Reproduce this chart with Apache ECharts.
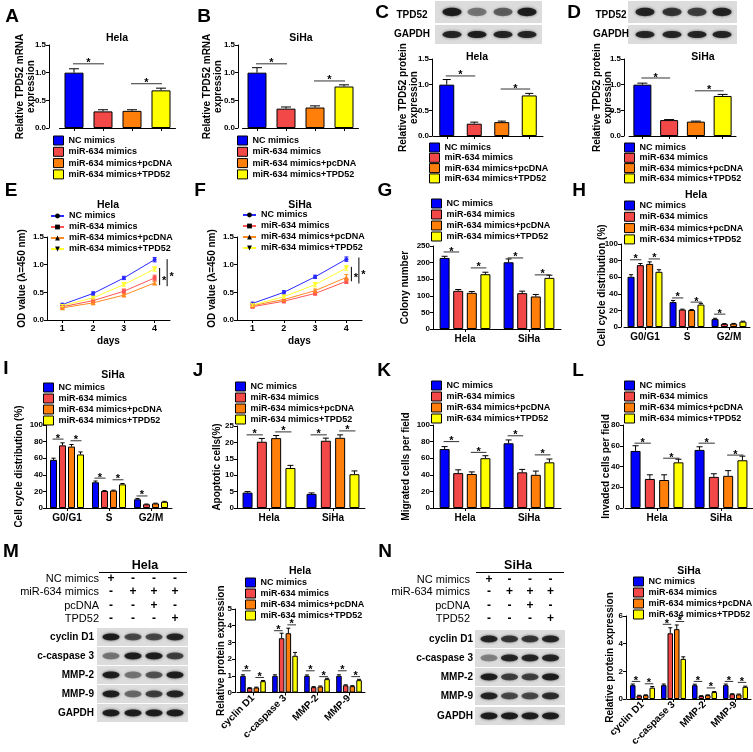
<!DOCTYPE html>
<html><head><meta charset="utf-8">
<script src="https://cdn.jsdelivr.net/npm/echarts@6/dist/echarts.min.js"></script>
<style>html,body{margin:0;padding:0;background:#fff}#c{width:753px;height:752px}</style>
</head><body><div id="c"></div>
<script>
const FONT = '"Liberation Sans", Arial, Helvetica, sans-serif';
const GROUPS = ['NC mimics','miR-634 mimics','miR-634 mimics+pcDNA','miR-634 mimics+TPD52'];
const COLORS = ['#0000FF','#F24848','#FF7F0A','#FFFF00'];
const LINE_COLORS = ['#2A2AFF','#FF5555','#FF8A1F','#FFFF30'];
const LINE_SYMBOLS = ['circle','rect','triangle','triangle'];

// Panels A-D (one bar per group)
const aMean=[1.00,0.30,0.31,0.68], aErr=[0.07,0.03,0.02,0.04], aSig=[[0,0,1,1.16],[0,2,3,0.80]];
const bMean=[1.00,0.35,0.37,0.75], bErr=[0.09,0.03,0.03,0.03], bSig=[[0,0,1,1.16],[0,2,3,0.85]];
const cMean=[1.00,0.24,0.27,0.79], cErr=[0.10,0.03,0.02,0.04], cSig=[[0,0,1,1.17],[0,2,3,0.915]];
const dMean=[1.00,0.31,0.28,0.78], dErr=[0.03,0.01,0.01,0.03], dSig=[[0,0,1,1.13],[0,2,3,0.88]];
// E, F (lines)
const DAYS=['1','2','3','4'];
const eMean=[[0.28,0.48,0.76,1.09],[0.24,0.35,0.52,0.76],[0.22,0.31,0.45,0.67],[0.26,0.40,0.64,0.92]];
const eErr=[[0.02,0.03,0.03,0.04],[0.02,0.03,0.04,0.05],[0.02,0.02,0.02,0.03],[0.02,0.02,0.03,0.04]];
const eBr=[[3,0.94,0.63],[3,1.10,0.61]];
const fMean=[[0.30,0.50,0.78,1.10],[0.24,0.34,0.48,0.70],[0.26,0.37,0.53,0.77],[0.27,0.42,0.64,0.94]];
const fErr=[[0.02,0.03,0.03,0.04],[0.02,0.03,0.03,0.04],[0.02,0.02,0.03,0.05],[0.02,0.03,0.04,0.04]];
const fBr=[[3,0.96,0.70],[3,1.13,0.66]];
// grouped
const CELLS=['Hela','SiHa'];
const PHASES=['G0/G1','S','G2/M'];
const PROTEINS=['cyclin D1','c-caspase 3','MMP-2','MMP-9'];
const gMean=[[214,201],[115,108],[109,98],[165,154]], gErr=[[5,10],[4,6],[4,6],[6,8]];
const gSig=[[0,0,1,232],[0,2,3,184],[1,0,1,214],[1,2,3,163]];
const hMean=[[60.5,30,9.5],[74.5,21,3.8],[76,20.5,4],[66.5,27,6.5]], hErr=[[2.5,2,1],[2,0.5,0.3],[2.5,0.5,0.3],[2.5,1.5,0.5]];
const hSig=[[0,0,1,81],[0,2,3,82],[1,0,1,35],[1,2,3,30],[2,0,1,15.5]];
const iMean=[[58,31,10.5],[75.5,20.5,4.5],[74,21,5.5],[64.5,28.5,7.5]], iErr=[[2,1.5,1],[3,0.5,0.3],[2.5,0.5,0.3],[3,1,0.5]];
const iSig=[[0,0,1,83],[0,2,3,81],[1,0,1,36],[1,2,3,34],[2,0,1,14.5]];
const jMean=[[4.7,4.3],[20.2,20.5],[21.3,21.4],[12.2,10.3]], jErr=[[0.3,0.3],[1,0.8],[0.8,0.9],[0.8,1]];
const jSig=[[0,0,1,22.3],[0,2,3,23.2],[1,0,1,22.3],[1,2,3,23.5]];
const kMean=[[71,78],[42,43],[41,40],[60,55]], kErr=[[3,4],[4,3.5],[2.5,4.5],[3,4]];
const kSig=[[0,0,1,80],[0,2,3,67],[1,0,1,87],[1,2,3,64]];
const lMean=[[55,56],[28,30],[27,31],[44,46]], lErr=[[5,3],[4,3],[5,5],[3,4]];
const lSig=[[0,0,1,62.5],[0,2,3,48],[1,0,1,62.5],[1,2,3,51]];
const mMean=[[1.0,1.0,1.0,1.0],[0.27,3.25,0.32,0.43],[0.30,3.55,0.36,0.38],[0.68,2.20,0.80,0.74]];
const mErr=[[0.06,0.06,0.05,0.06],[0.02,0.3,0.03,0.03],[0.02,0.3,0.03,0.03],[0.04,0.2,0.05,0.05]];
const mSig=[[0,0,1,1.3],[0,2,3,0.9],[1,0,1,3.7],[1,2,3,4.05],[2,0,1,1.3],[2,2,3,0.95],[3,0,1,1.3],[3,2,3,0.95]];
const nMean=[[1.0,1.0,1.0,1.0],[0.25,4.75,0.22,0.35],[0.28,5.05,0.28,0.33],[0.82,2.90,0.50,0.88]];
const nErr=[[0.08,0.08,0.07,0.08],[0.02,0.4,0.02,0.03],[0.02,0.3,0.02,0.03],[0.08,0.15,0.04,0.05]];
const nSig=[[0,0,1,1.27],[0,2,3,1.1],[1,0,1,5.4],[1,2,3,5.6],[2,0,1,1.27],[2,2,3,0.8],[3,0,1,1.27],[3,2,3,1.2]];
// western blot band intensities (lanes 1..4)
const cBlot={TPD52:[0.9,0.45,0.55,0.9],GAPDH:[0.85,0.9,0.85,0.85]};
const dBlot={TPD52:[0.85,0.75,0.7,0.85],GAPDH:[0.85,0.85,0.85,0.85]};
const BLOT_ROWS=['cyclin D1','c-caspase 3','MMP-2','MMP-9','GAPDH'];
const mBlot=[[0.9,0.65,0.65,0.85],[0.45,0.9,0.9,0.7],[0.9,0.45,0.6,0.9],[0.9,0.5,0.7,0.85],[0.9,0.9,0.9,0.9]];
const nBlot=[[0.85,0.75,0.75,0.85],[0.4,0.85,0.85,0.85],[0.9,0.7,0.7,0.9],[0.85,0.65,0.65,0.8],[0.9,0.9,0.9,0.9]];
const SIGN_ROWS=['NC mimics','miR-634 mimics','pcDNA','TPD52'];
const SIGNS=[['+','-','-','-'],['-','+','+','+'],['-','-','+','-'],['-','-','-','+']];

const option={animation:false,backgroundColor:'#fff',grid:[],xAxis:[],yAxis:[],series:[],legend:[],graphic:{elements:[]}};
const G=option.graphic.elements;
function txt(t,x,y,size,opt){opt=opt||{};G.push({type:'text',x:x,y:y,rotation:opt.rot||0,style:{text:t,font:(opt.weight||'bold')+' '+size+'px '+FONT,fill:'#000',align:opt.align||'center',verticalAlign:opt.va||'middle'}});}
function axisBase(){return {nameMoveOverlap:false,axisLine:{show:true,lineStyle:{color:'#000',width:1}},axisTick:{show:true,length:3,alignWithLabel:true,lineStyle:{color:'#000',width:1}},axisLabel:{color:'#000',fontSize:8,fontWeight:'bold',fontFamily:FONT,margin:3},splitLine:{show:false}};}
const nameStyle={fontSize:10,fontWeight:'bold',color:'#000',fontFamily:FONT,lineHeight:11};

function addLegend(left,top,gap,isLine){
  option.legend.push({left:left,top:top,orient:'vertical',padding:0,itemGap:gap,itemWidth:isLine?13:10,itemHeight:isLine?6:9,selectedMode:false,icon:isLine?undefined:'rect',
    data:GROUPS.map(n=>isLine?n+'\u200b':n),
    itemStyle:isLine?undefined:{borderColor:'#000',borderWidth:1},
    textStyle:{fontSize:9,fontWeight:'bold',fontFamily:FONT,color:'#000',lineHeight:9,padding:0}});
}

function barPanel(p){
  option.grid.push(p.grid);
  const gi=option.grid.length-1;
  const single=!Array.isArray(p.mean[0]);
  const cats=single?GROUPS:p.cats;
  const xa=axisBase();
  Object.assign(xa,{type:'category',gridIndex:gi,data:cats});
  xa.axisLabel=Object.assign({},xa.axisLabel,{show:!single,fontSize:10,margin:5,interval:0},p.xLabel||{});
  option.xAxis.push(xa);
  const ya=axisBase();
  Object.assign(ya,{type:'value',gridIndex:gi,min:p.min,max:p.max,interval:p.interval,offset:p.yOffset||0,
    name:p.yName,nameLocation:'middle',nameRotate:90,nameGap:p.nameGap,nameTextStyle:nameStyle});
  ya.axisLabel=Object.assign({},ya.axisLabel,{formatter:v=>v.toFixed(p.dec||0)});
  option.yAxis.push(ya);
  const ai=option.xAxis.length-1;
  const pos=(api,c,i,v)=>{ if(single){return api.coord([i,v]);} const pt=api.coord([c,v]); return [pt[0]+(i-1.5)*p.pitch,pt[1]]; };
  GROUPS.forEach((name,i)=>{
    const data=single?cats.map((_,k)=>k===i?p.mean[i]:'-'):p.mean[i];
    option.series.push({type:'bar',name:name,xAxisIndex:ai,yAxisIndex:ai,data:data,barWidth:p.barWidth,
      barGap:single?'-100%':((p.pitch-p.barWidth)/p.barWidth*100)+'%',
      itemStyle:{color:COLORS[i],borderColor:'#000',borderWidth:1},silent:true,emphasis:{disabled:true}});
  });
  const errData=[];
  GROUPS.forEach((_,i)=>{ if(single) errData.push([i,i,p.mean[i],p.err[i]]); else p.mean[i].forEach((v,c)=>errData.push([c,i,v,p.err[i][c]])); });
  const cap=p.cap||Math.max(2,p.barWidth*0.3);
  option.series.push({type:'custom',xAxisIndex:ai,yAxisIndex:ai,data:errData,encode:{x:0,y:2},z:1,silent:true,
    renderItem:(params,api)=>{
      const a=pos(api,api.value(0),api.value(1),api.value(2)), b=pos(api,api.value(0),api.value(1),api.value(2)+api.value(3));
      const st={stroke:'#000',lineWidth:1};
      return {type:'group',children:[{type:'line',shape:{x1:a[0],y1:a[1],x2:b[0],y2:b[1]},style:st},{type:'line',shape:{x1:b[0]-cap,y1:b[1],x2:b[0]+cap,y2:b[1]},style:st}]};
    }});
  option.series.push({type:'custom',xAxisIndex:ai,yAxisIndex:ai,data:p.sig,encode:{x:0,y:3},z:6,silent:true,
    renderItem:(params,api)=>{
      const y=api.value(3), a=pos(api,api.value(0),api.value(1),y), b=pos(api,api.value(0),api.value(2),y);
      return {type:'group',children:[
        {type:'line',shape:{x1:a[0]-1,y1:a[1],x2:b[0]+1,y2:b[1]},style:{stroke:'#333',lineWidth:1}},
        {type:'text',style:{text:'*',x:(a[0]+b[0])/2,y:a[1]+5,align:'center',verticalAlign:'bottom',font:'bold 11px '+FONT,fill:'#000'}}]};
    }});
}

function linePanel(p){
  option.grid.push(p.grid);
  const gi=option.grid.length-1;
  const xa=axisBase();
  Object.assign(xa,{type:'category',gridIndex:gi,data:DAYS,name:'days',nameLocation:'middle',nameGap:16,nameTextStyle:nameStyle});
  xa.axisLabel=Object.assign({},xa.axisLabel,{margin:4,fontSize:9});
  option.xAxis.push(xa);
  const ya=axisBase();
  Object.assign(ya,{type:'value',gridIndex:gi,min:0,max:1.5,interval:0.5,name:'OD value (\u03bb=450 nm)',nameLocation:'middle',nameRotate:90,nameGap:p.nameGap,nameTextStyle:nameStyle});
  ya.axisLabel=Object.assign({},ya.axisLabel,{formatter:v=>v.toFixed(1)});
  option.yAxis.push(ya);
  const ai=option.xAxis.length-1;
  GROUPS.forEach((name,i)=>{
    option.series.push({type:'line',name:name+'\u200b',xAxisIndex:ai,yAxisIndex:ai,data:p.mean[i],symbol:LINE_SYMBOLS[i],symbolRotate:i===3?180:0,symbolSize:i<2?4:5,
      color:LINE_COLORS[i],lineStyle:{width:1,color:LINE_COLORS[i]},itemStyle:{color:LINE_COLORS[i]},silent:true,emphasis:{disabled:true},z:3});
  });
  const errData=[];
  GROUPS.forEach((_,i)=>p.mean[i].forEach((v,d)=>errData.push([d,i,v,p.err[i][d]])));
  option.series.push({type:'custom',xAxisIndex:ai,yAxisIndex:ai,data:errData,encode:{x:0,y:2},z:4,silent:true,
    renderItem:(params,api)=>{
      const c=LINE_COLORS[api.value(1)];
      const a=api.coord([api.value(0),api.value(2)-api.value(3)]), b=api.coord([api.value(0),api.value(2)+api.value(3)]);
      const st={stroke:c,lineWidth:1};
      return {type:'group',children:[{type:'line',shape:{x1:a[0],y1:a[1],x2:b[0],y2:b[1]},style:st},
        {type:'line',shape:{x1:a[0]-2,y1:a[1],x2:a[0]+2,y2:a[1]},style:st},{type:'line',shape:{x1:b[0]-2,y1:b[1],x2:b[0]+2,y2:b[1]},style:st}]};
    }});
  option.series.push({type:'custom',xAxisIndex:ai,yAxisIndex:ai,data:p.br,encode:{x:0,y:1},z:6,silent:true,
    renderItem:(params,api)=>{
      const off=5+params.dataIndex*7.5;
      const a=api.coord([api.value(0),api.value(1)]), b=api.coord([api.value(0),api.value(2)]);
      const x=a[0]+off;
      return {type:'group',children:[{type:'line',shape:{x1:x,y1:a[1],x2:x,y2:b[1]},style:{stroke:'#000',lineWidth:1}},
        {type:'text',style:{text:'*',x:x+4.5,y:(a[1]+b[1])/2+4,align:'center',verticalAlign:'middle',font:'bold 11px '+FONT,fill:'#000'}}]};
    }});
}

// ---- panels ----
barPanel({grid:{left:59.5,top:45,width:116,height:83},mean:aMean,err:aErr,sig:aSig,min:0,max:1.5,interval:0.5,dec:1,yOffset:10.5,barWidth:19,cap:5,yName:'Relative TPD52 mRNA\nexpression',nameGap:12});
barPanel({grid:{left:242.5,top:45,width:116,height:83},mean:bMean,err:bErr,sig:bSig,min:0,max:1.5,interval:0.5,dec:1,yOffset:4.5,barWidth:19,cap:5,yName:'Relative TPD52 mRNA\nexpression',nameGap:14});
barPanel({grid:{left:433,top:59,width:110,height:77},mean:cMean,err:cErr,sig:cSig,min:0,max:1.5,interval:0.5,dec:1,yOffset:1,barWidth:15,cap:4,yName:'Relative TPD52 protein\nexpression',nameGap:12});
barPanel({grid:{left:629,top:59,width:107,height:77},mean:dMean,err:dErr,sig:dSig,min:0,max:1.5,interval:0.5,dec:1,yOffset:5,barWidth:18,cap:5,yName:'Relative TPD52 protein\nexpression',nameGap:10});
linePanel({grid:{left:47,top:237,width:123,height:83},mean:eMean,err:eErr,br:eBr,nameGap:19});
linePanel({grid:{left:237,top:237,width:125,height:83},mean:fMean,err:fErr,br:fBr,nameGap:19});
barPanel({grid:{left:433,top:246,width:128,height:83},cats:CELLS,mean:gMean,err:gErr,sig:gSig,min:0,max:250,interval:50,barWidth:10,pitch:13.6,yName:'Colony number',nameGap:22});
barPanel({grid:{left:624,top:244,width:126,height:83},cats:PHASES,mean:hMean,err:hErr,sig:hSig,min:0,max:100,interval:20,yOffset:3,barWidth:7,pitch:9.3,yName:'Cell cycle distribution (%)',nameGap:13});
barPanel({grid:{left:46,top:425,width:126,height:83},cats:PHASES,mean:iMean,err:iErr,sig:iSig,min:0,max:100,interval:20,barWidth:7,pitch:9,yName:'Cell cycle distribution (%)',nameGap:21});
barPanel({grid:{left:237,top:426,width:128,height:82},cats:CELLS,mean:jMean,err:jErr,sig:jSig,min:0,max:25,interval:5,barWidth:10,pitch:14.3,yName:'Apoptotic cells(%)',nameGap:14});
barPanel({grid:{left:433,top:425,width:128,height:83},cats:CELLS,mean:kMean,err:kErr,sig:kSig,min:0,max:100,interval:20,barWidth:10,pitch:13.6,yName:'Migrated cells per field',nameGap:21});
barPanel({grid:{left:625,top:425,width:128,height:83},cats:CELLS,mean:lMean,err:lErr,sig:lSig,min:0,max:80,interval:20,yOffset:2,barWidth:10,pitch:14.3,yName:'Invaded cells per field',nameGap:11});
barPanel({grid:{left:237,top:609,width:128,height:83.5},cats:PROTEINS,mean:mMean,err:mErr,sig:mSig,min:0,max:5,interval:1,yOffset:2,barWidth:5.5,pitch:6.7,cap:2,yName:'Relative protein expression',nameGap:8,xLabel:{rotate:45,margin:4}});
barPanel({grid:{left:627,top:616,width:124,height:83},cats:PROTEINS,mean:nMean,err:nErr,sig:nSig,min:0,max:6,interval:2,yOffset:1,barWidth:5.5,pitch:6.5,cap:2,yName:'Relative protein expression',nameGap:10,xLabel:{rotate:45,margin:4}});

// legends
addLegend(53,135.5,1.3,false); addLegend(237,135.5,1.3,false);
addLegend(429,142.5,0.3,false); addLegend(624,142.5,0.3,false);
addLegend(50,211.5,2,true); addLegend(242,210.5,2,true);
addLegend(431,198.5,1,false); addLegend(624,200.5,1.3,false);
addLegend(43,382.5,1,false); addLegend(235,381.5,1,false);
addLegend(431,380.5,1,false); addLegend(624,380.5,1,false);
addLegend(245,577.5,1,false); addLegend(633,576.5,1,false);

// panel letters
[['A',12,17],['B',204,17],['C',382,13],['D',574,13],['E',11,191],['F',200,191],['G',385,191],['H',579,191],
 ['I',6,369],['J',198,371],['K',384,371],['L',578,371],['M',11,552],['N',385,552]].forEach(l=>txt(l[0],l[1],l[2],19));
// chart titles
[['Hela',117,38],['SiHa',301,38],['Hela',477,57],['SiHa',703,57],['Hela',108,205],['SiHa',300,205],['Hela',696,195],['SiHa',113,375],['Hela',300,571],['SiHa',689,571]].forEach(t=>txt(t[0],t[1],t[2],10.5));

// blots
function band(cx,cy,w,h,a){
  G.push({type:'ellipse',shape:{cx:cx,cy:cy,rx:w/2,ry:h/2},style:{fill:'rgba(20,20,20,'+a+')',shadowBlur:3,shadowColor:'rgba(20,20,20,'+(a*0.8)+')'}});
}
function blotBox(x,y,w,h,lanes,ints,bw){
  G.push({type:'rect',shape:{x:x,y:y,width:w,height:h},style:{fill:'#dcdcdc'}});
  lanes.forEach((lx,k)=>band(lx,y+h/2,bw,h*0.38,ints[k]));
}
const cLanes=[452,477,503,527], dLanes=[645,672,697,722];
blotBox(435,1,107,22,cLanes,cBlot.TPD52,19); blotBox(435,25,107,19,cLanes,cBlot.GAPDH,19);
blotBox(628,1,109,22,dLanes,dBlot.TPD52,19); blotBox(628,25,109,19,dLanes,dBlot.GAPDH,19);
txt('TPD52',412,15,10); txt('GAPDH',412,34,10); txt('TPD52',611,15,10); txt('GAPDH',611,34,10);

function wbPanel(cell,cx,lineX1,lineX2,labelX,signY,lanes,boxX,boxW,rowsY,rowLabelX,ints){
  txt(cell,cx,566,12.5);
  G.push({type:'line',shape:{x1:lineX1,y1:572.5,x2:lineX2,y2:572.5},style:{stroke:'#000',lineWidth:1}});
  SIGN_ROWS.forEach((r,k)=>{
    txt(r,labelX,signY[k],11,{align:'right',weight:'normal'});
    SIGNS[k].forEach((s,j)=>txt(s,lanes[j],signY[k],12,{weight:'bold'}));
  });
  BLOT_ROWS.forEach((r,k)=>{
    const y0=rowsY[k][0], h=rowsY[k][1]-rowsY[k][0];
    blotBox(boxX,y0,boxW,h,lanes,ints[k],17);
    txt(r,rowLabelX,y0+h/2,10,{align:'right'});
  });
}
wbPanel('Hela',145,99,187,99,[579,592,606,619],[111,133,154,175],97,91,[[628,646],[647,665],[666,684],[685,703],[704,722]],94,mBlot);
wbPanel('SiHa',518,476,564,470,[580,592,606,619],[489,509.5,530,550.5],475,90,[[630,648],[649,667],[668,686],[687,705],[707,725]],473,nBlot);

const chart=echarts.init(document.getElementById('c'),null,{renderer:'canvas'});
chart.setOption(option);
</script></body></html>
